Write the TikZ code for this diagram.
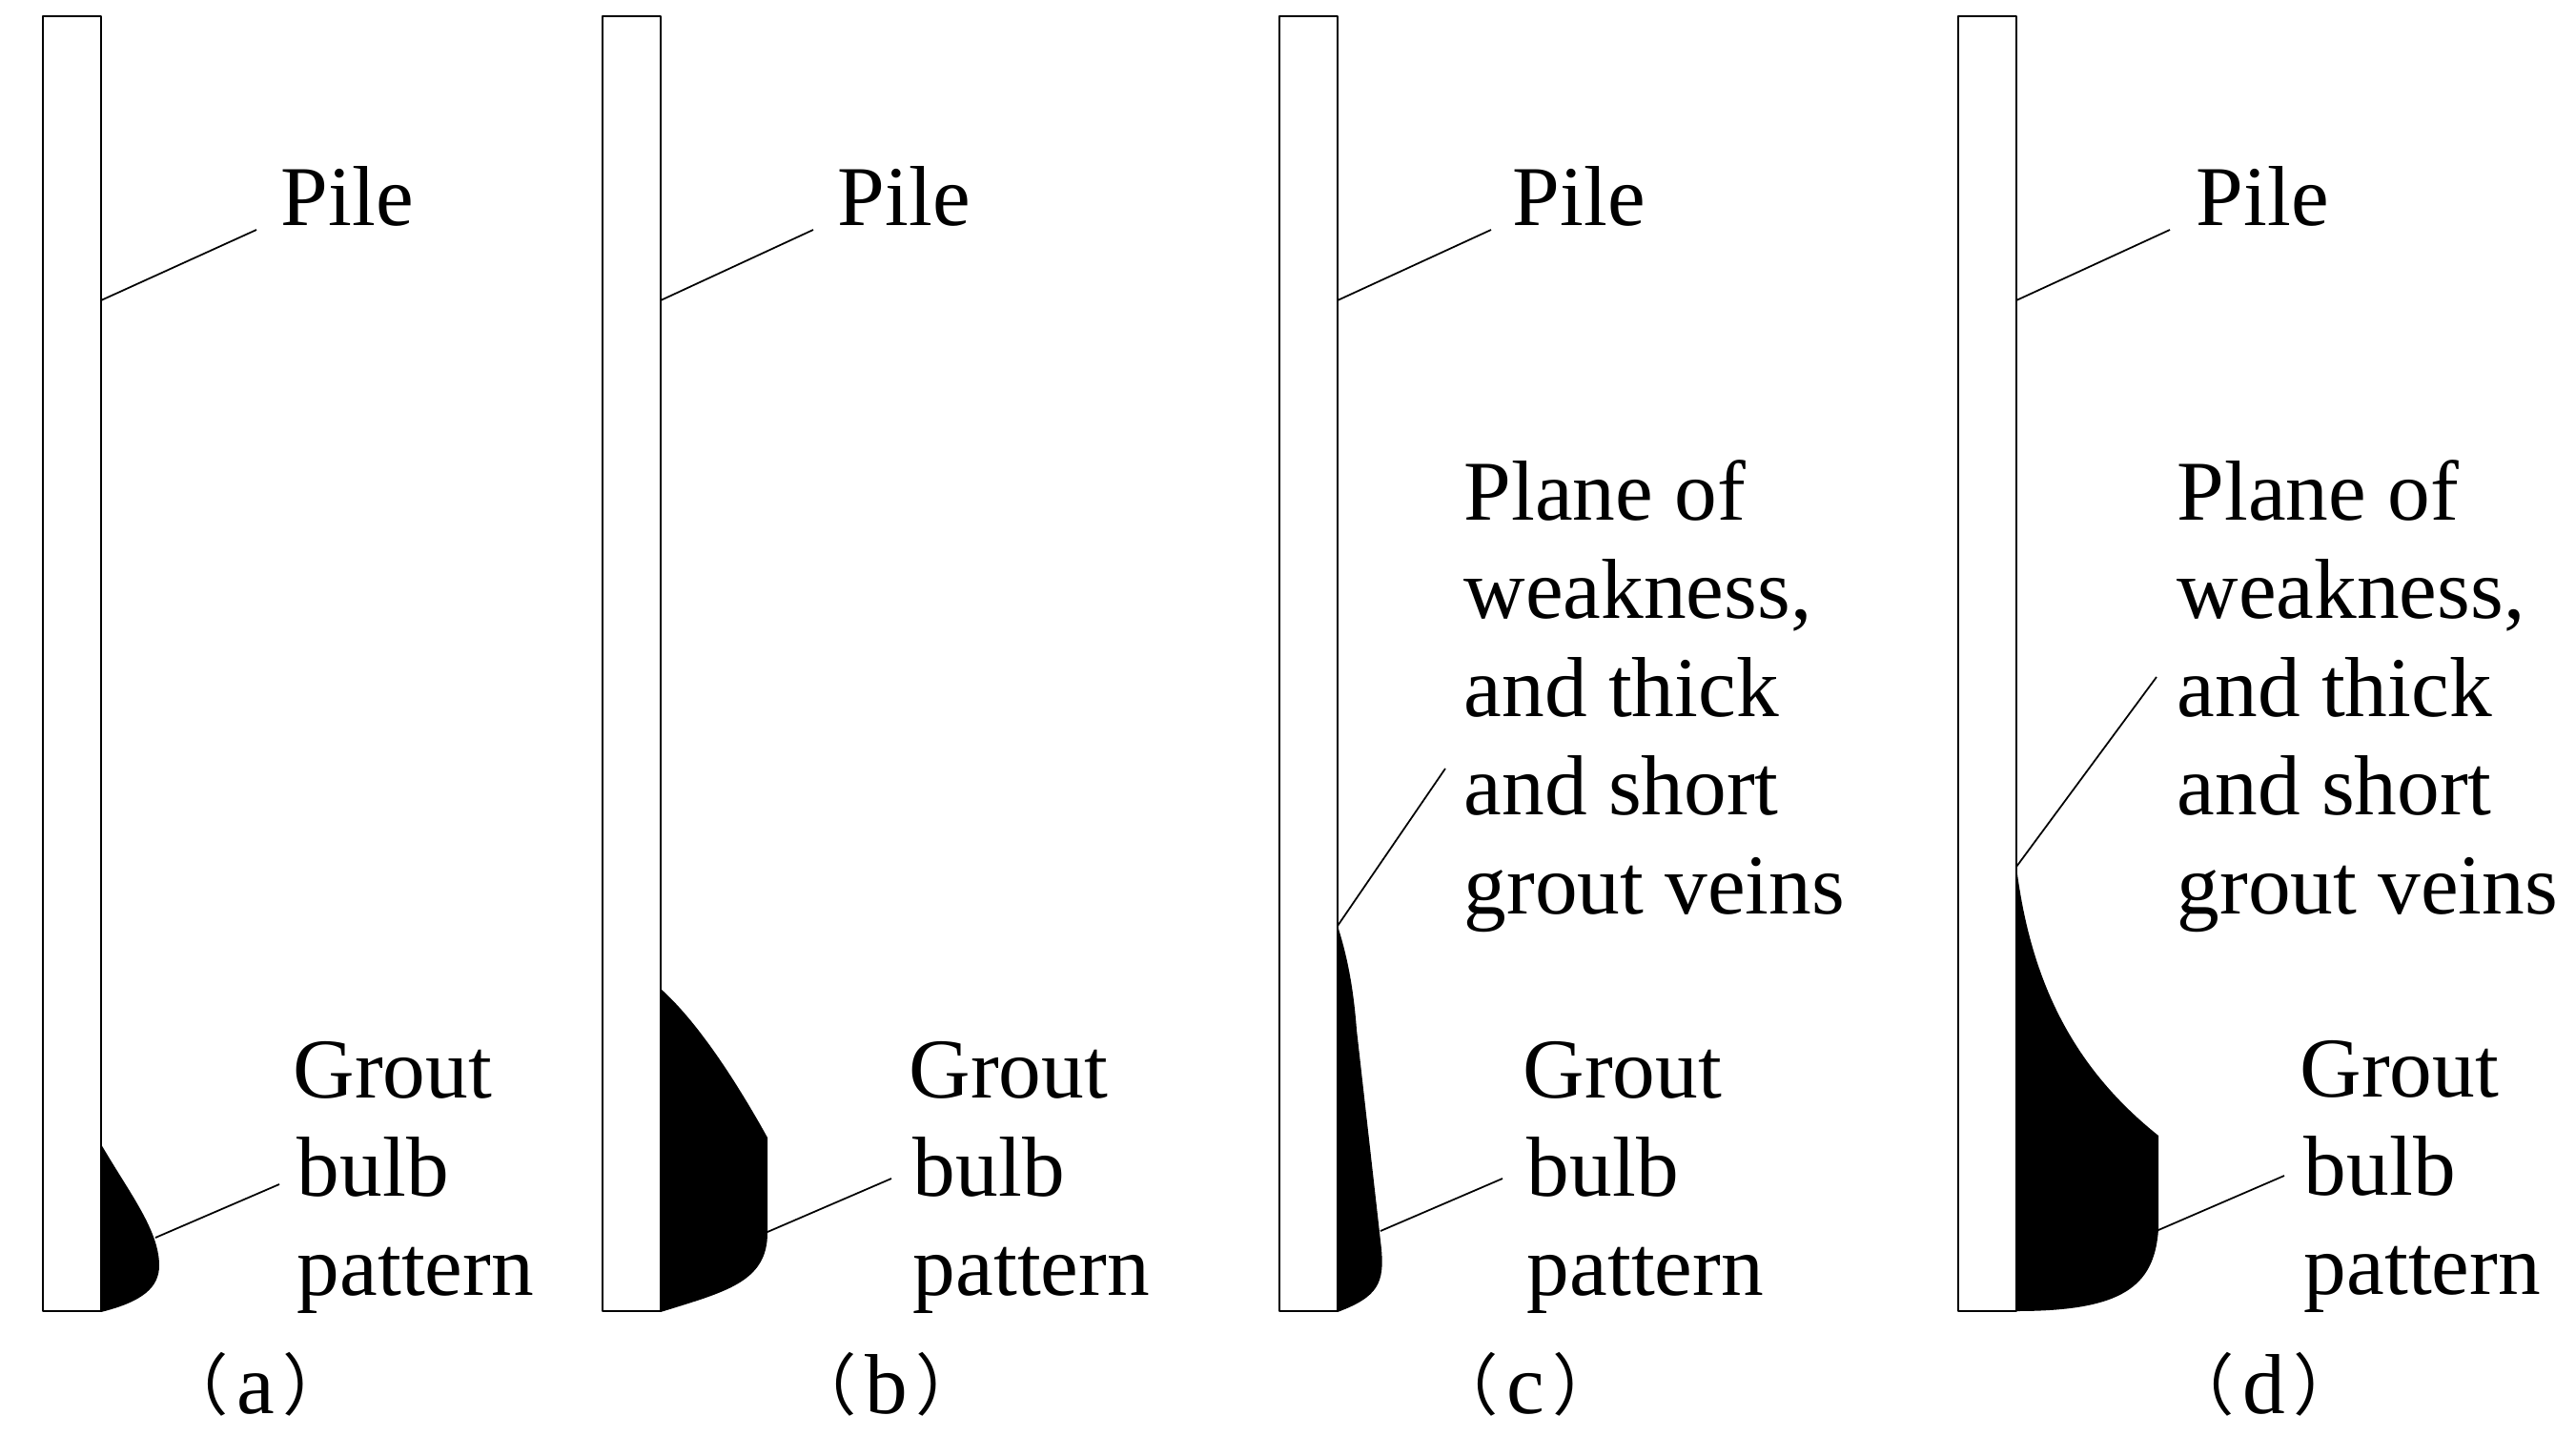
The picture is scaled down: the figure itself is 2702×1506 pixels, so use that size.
\documentclass[tikz,border=0pt]{standalone}
\usepackage{fontspec}
\setmainfont{Liberation Serif}
\newfontfamily\cjk{Noto Sans CJK SC}
\newcommand\lpar{\raisebox{1pt}{\fontsize{20}{20}\cjk（}\kern2.4pt}
\newcommand\rpar{\kern2.4pt\raisebox{1pt}{\fontsize{20}{20}\cjk）}}
\tikzset{
	lbl/.style={inner sep=0pt,anchor=base west,align=left},
	capt/.style={inner sep=0pt,anchor=base},
	leader/.style={line width=.5pt},
	pile/.style={line width=.45pt,fill=white}
}
\begin{document}
\begin{tikzpicture}[x=.01cm,y=-.01cm,line join=round,font=\fontsize{25.4}{29.3}\selectfont]
	\useasboundingbox (0,0) rectangle (2702,1506);
	% piles
	\foreach \x/\n in {45/a,632/b,1342/c,2054/d}{
		\draw[pile] (\x,17) rectangle ++(61,1358);
		\path (\x+61,315) coordinate (P\n);
	}
	\path
	(269,241) coordinate (Qa)
	(853,241) coordinate (Qb)
	(1564,241) coordinate (Qc)
	(2276,241) coordinate (Qd)
	(163,1298) coordinate (Ga)
	(293,1242) coordinate (Ha)
	(805,1292) coordinate (Gb)
	(935,1236) coordinate (Hb)
	(1448,1291) coordinate (Gc)
	(1576,1236) coordinate (Hc)
	(2264,1290) coordinate (Gd)
	(2396,1233) coordinate (Hd)
	(1403,971) coordinate (Wc)
	(1516,806) coordinate (Vc)
	(2115,909) coordinate (Wd)
	(2262,710) coordinate (Vd)
	;
	% grout bulbs
	\fill (106,1200) .. controls (135,1250) and (167,1290) .. (167,1327) .. controls (167,1350) and (150,1365) .. (106,1376) -- cycle;
	\fill (693,1037) .. controls (730,1070) and (770,1130) .. (805,1193) -- (805,1293) .. controls (805,1345) and (760,1355) .. (693,1376) -- cycle;
	\fill (1403,971) .. controls (1414,1005) and (1420,1040) .. (1423,1080) -- (1449,1310) .. controls (1452,1345) and (1446,1360) .. (1403,1376) -- cycle;
	\fill (2115,909) .. controls (2130,1030) and (2175,1120) .. (2264,1191) -- (2264,1289) .. controls (2260,1350) and (2225,1375) .. (2115,1375) -- cycle;
	% leaders
	\foreach \n in {a,b,c,d}{
		\draw[leader] (P\n)--(Q\n) (G\n)--(H\n);
	}
	\draw[leader] (Wc)--(Vc) (Wd)--(Vd);
	% labels
	\foreach \x/\n in {294/a,878/b,1586/c,2303/d}
		\node[lbl] (pile\n) at (\x,236) {Pile};
	\foreach \x/\y/\n in {307/1358/a,953/1358/b,1597/1358/c,2412/1357/d}
		\node[lbl] (grout\n) at (\x,\y) {Grout\\\kern1.2pt bulb\\\kern1.2pt pattern};
	\foreach \x/\n in {1535/c,2283/d}
		\node[lbl] (plane\n) at (\x,958) {Plane of\\weakness,\\and thick\\and short\\grout veins};
	\foreach \x/\n in {268/a,930/b,1600/c,2375/d}
		\node[capt] (cap\n) at (\x,1482) {\lpar\n\rpar};
\end{tikzpicture}
\end{document}
